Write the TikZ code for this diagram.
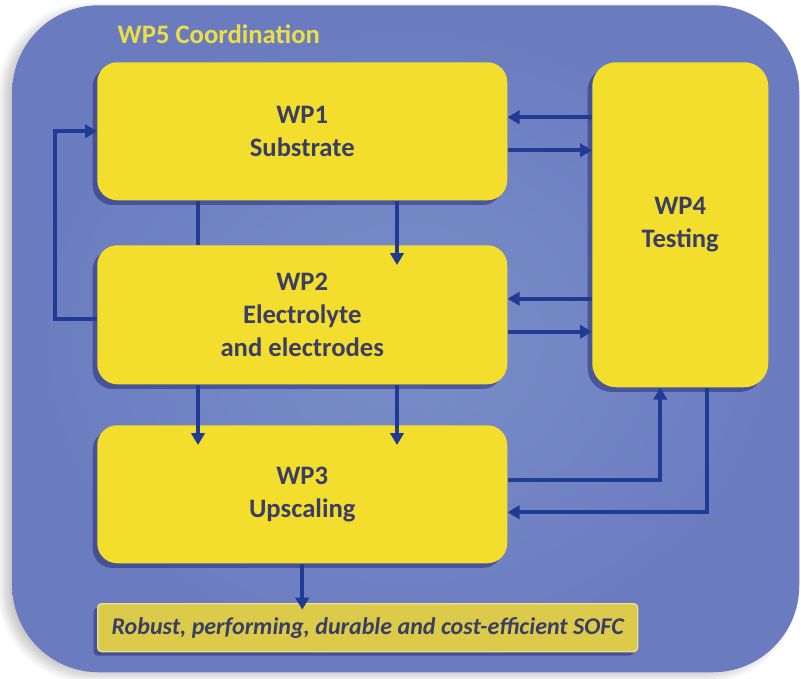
\documentclass[tikz,border=0pt]{standalone}
\usepackage{fontspec}
\setmainfont{Carlito}
\usetikzlibrary{arrows.meta,calc,shadows,shadows.blur}

\definecolor{panelin}{RGB}{122,141,201}
\definecolor{panelout}{RGB}{106,124,191}
\definecolor{wpyellow}{RGB}{243,222,45}
\definecolor{goalyellow}{RGB}{220,203,74}
\definecolor{linkblue}{RGB}{33,58,148}
\definecolor{labelink}{RGB}{58,62,100}
\definecolor{titleyellow}{RGB}{238,222,70}

\begin{document}
\begin{tikzpicture}[x=0.75pt,y=-0.75pt,
  panel/.style={rectangle, anchor=north west, rounded corners=65pt,
    inner color=panelin, outer color=panelout, inner sep=0pt,
    minimum width=590.25pt, minimum height=500.25pt,
    blur shadow={shadow xshift=-6pt, shadow yshift=-3pt,
      shadow blur radius=6pt, shadow blur steps=10, shadow opacity=22}},
  wpbox/.style={rectangle, rounded corners=15pt, fill=wpyellow,
    anchor=north west, inner sep=0pt, align=center, text=labelink,
    font=\fontsize{20}{25}\selectfont\bfseries,
    drop shadow={shadow xshift=-3.5pt, shadow yshift=-3.5pt,
      fill=black!70!blue, opacity=0.35}},
  goalbox/.style={rectangle, rounded corners=3pt, fill=goalyellow,
    draw=goalyellow!60!white, line width=1pt, anchor=north west,
    inner sep=0pt, text=labelink,
    font=\fontsize{18}{21}\selectfont\bfseries\itshape,
    minimum width=405pt, minimum height=36pt,
    drop shadow={shadow xshift=-3pt, shadow yshift=-3pt,
      fill=black!70!blue, opacity=0.35}},
  link/.style={draw=linkblue, line width=3.1pt},
  arr/.style={link, -{Triangle[length=9pt,width=10pt]}},
  deeparr/.style={arr, shorten >=-15pt}
]
\useasboundingbox (0,0) rectangle (801,679);

% coordination panel
\node[panel] (wp5) at (12,5) {};
\node[anchor=west, text=titleyellow, font=\fontsize{20}{22}\selectfont\bfseries]
  (title) at (113,34) {WP5 Coordination};

% work packages
\node[wpbox, minimum width=307.5pt, minimum height=103.5pt] (wp1) at (97,62)
  {WP1\\Substrate};
\node[wpbox, minimum width=307.5pt, minimum height=104.25pt] (wp2) at (97,245)
  {WP2\\Electrolyte\\and electrodes};
\node[wpbox, minimum width=307.5pt, minimum height=103.5pt] (wp3) at (97,425)
  {WP3\\Upscaling};
\node[wpbox, rounded corners=18pt, minimum width=132pt, minimum height=243.75pt]
  (wp4) at (592,62) {WP4\\Testing};
\node[goalbox] (goal) at (97,603)
  {Robust, performing, durable and cost-efficient SOFC};

% anchor points for the links
\coordinate (fb)  at ($(wp2.west)+(0,4)$);
\coordinate (d1a) at ($(wp1.south west)+(101,0)$);
\coordinate (d1b) at ($(wp1.south west)+(300,0)$);
\coordinate (d2a) at ($(wp2.south west)+(101,0)$);
\coordinate (d2b) at ($(wp2.south west)+(300,0)$);
\coordinate (t1a) at ($(wp1.east)+(0,-14)$);
\coordinate (t1b) at ($(wp1.east)+(0,19)$);
\coordinate (t2a) at ($(wp2.east)+(0,-16)$);
\coordinate (t2b) at ($(wp2.east)+(0,17)$);
\coordinate (t3a) at ($(wp3.east)+(0,-14)$);
\coordinate (t3b) at ($(wp3.east)+(0,18)$);
\coordinate (t4a) at ($(wp4.south)+(-20,0)$);
\coordinate (t4b) at ($(wp4.south)+(27,0)$);

% feedback from WP2 to WP1
\draw[arr] (fb) -- ++(-42,0) |- (wp1.west);

% WP1 -> WP2
\draw[link] (d1a) -- (d1a |- wp2.north);
\draw[deeparr] (d1b) -- (d1b |- wp2.north);

% WP2 -> WP3
\draw[deeparr] (d2a) -- (d2a |- wp3.north);
\draw[deeparr] (d2b) -- (d2b |- wp3.north);

% exchanges with testing
\draw[arr] (t1a -| wp4.west) -- (t1a);
\draw[arr] (t1b) -- (t1b -| wp4.west);
\draw[arr] (t2a -| wp4.west) -- (t2a);
\draw[arr] (t2b) -- (t2b -| wp4.west);
\draw[arr] (t3a) -| (t4a);
\draw[arr] (t4b) |- (t3b);

% outcome
\draw[arr, shorten >=-5pt] (wp3.south) -- (wp3.south |- goal.north);
\end{tikzpicture}
\end{document}
